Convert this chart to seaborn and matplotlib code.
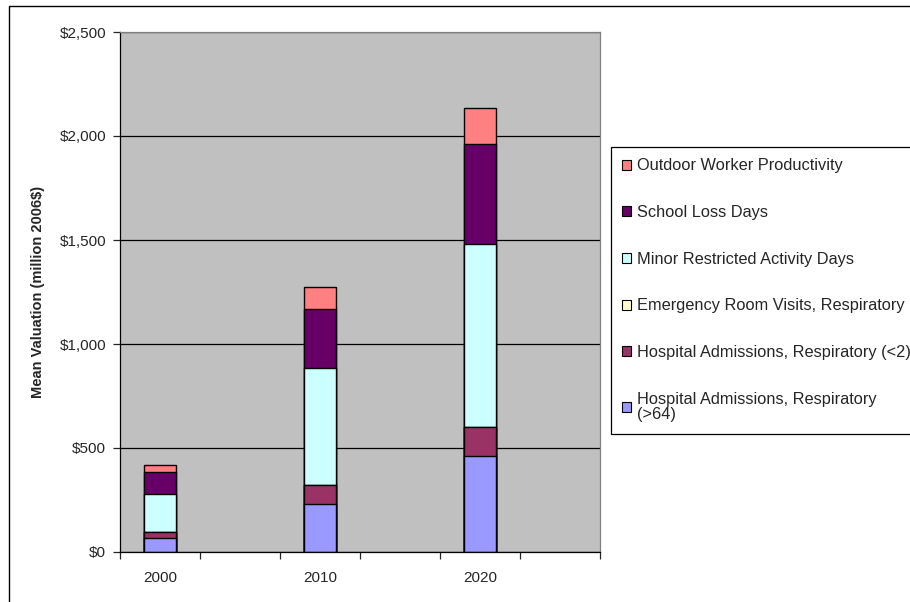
import numpy as np
import pandas as pd
import matplotlib
matplotlib.use("Agg")
import matplotlib.pyplot as plt
import seaborn as sns
from matplotlib.patches import Patch, Rectangle
from matplotlib.ticker import FuncFormatter

# category slots (Excel shows every 2nd label)
years = ["2000", "2005", "2010", "2015", "2020", "2025"]
year_labels = ["2000", "", "2010", "", "2020", ""]
data_years = ["2000", "2010", "2020"]

# endpoints, bottom to top of the stack
endpoints = ["Hospital Admissions, Respiratory (>64)",
             "Hospital Admissions, Respiratory (<2)",
             "Emergency Room Visits, Respiratory",
             "Minor Restricted Activity Days",
             "School Loss Days",
             "Outdoor Worker Productivity"]
legend_labels = ["Hospital Admissions, Respiratory\n(>64)",
                 "Hospital Admissions, Respiratory (<2)",
                 "Emergency Room Visits, Respiratory",
                 "Minor Restricted Activity Days",
                 "School Loss Days",
                 "Outdoor Worker Productivity"]

# mean valuation, million 2006$
hosp_64 = [68, 231, 460]
hosp_2 = [29, 91, 140]
er_visits = [0.5, 1, 2]
mrad = [183, 563, 880]
school_loss = [106, 283, 480]
worker_prod = [34, 104, 175]

colors = ["#9999FF", "#993366", "#FFFFCC", "#CCFFFF", "#660066", "#FF8080"]

series = [hosp_64, hosp_2, er_visits, mrad, school_loss, worker_prod]
df = pd.DataFrame({
    "year": data_years * len(endpoints),
    "endpoint": np.repeat(endpoints, len(data_years)),
    "value": np.concatenate(series),
})
df["cum"] = df.groupby("year")["value"].cumsum()

sns.set_style("white")
plt.rcParams["font.family"] = ["Liberation Sans", "DejaVu Sans"]

fig = plt.figure(figsize=(9.1, 6.02), dpi=100)
ax = fig.add_axes([120 / 910, 1 - 552 / 602, 480 / 910, 520 / 602])
ax.set_facecolor("#C0C0C0")

# stacked bars: draw cumulative totals from the top layer down
for i in reversed(range(len(endpoints))):
    sub = df[df["endpoint"] == endpoints[i]]
    sns.barplot(data=sub, x="year", y="cum", order=years, color=colors[i],
                saturation=1, width=0.41, errorbar=None,
                edgecolor="black", linewidth=1, ax=ax)

ax.set_axisbelow(True)
ax.yaxis.grid(True, color="black", linewidth=0.9)
ax.set_xlim(-0.5, 5.5)
ax.set_ylim(0, 2500)
ax.set_yticks(np.arange(0, 2501, 500))
ax.yaxis.set_major_formatter(FuncFormatter(lambda v, p: f"${v:,.0f}"))
ax.tick_params(axis="y", left=True, length=5, width=0.9, pad=5, labelsize=11)

ax.set_xticks(range(len(years)))
ax.set_xticklabels(year_labels)
ax.set_xticks(np.arange(-0.5, 6, 1), minor=True)
ax.tick_params(axis="x", which="major", length=0, pad=13.5, labelsize=11)
ax.tick_params(axis="x", which="minor", bottom=True, length=5, width=0.9)

ax.set_xlabel("")
ax.set_ylabel("Mean Valuation (million 2006$)", fontsize=10.5, fontweight="bold")
ax.yaxis.set_label_coords(-0.156, 0.5)

for s in ["left", "bottom"]:
    ax.spines[s].set_color("black")
    ax.spines[s].set_linewidth(0.9)
for s in ["top", "right"]:
    ax.spines[s].set_color("#808080")
    ax.spines[s].set_linewidth(0.9)

# legend, top layer first (it runs past the right edge, as in the original)
handles = [Patch(facecolor=colors[i], edgecolor="black", linewidth=0.8)
           for i in reversed(range(len(endpoints)))]
labels = [legend_labels[i] for i in reversed(range(len(endpoints)))]
leg = fig.legend(handles, labels, loc="upper left",
                 bbox_to_anchor=(611 / 910, 1 - 147 / 602), borderaxespad=0,
                 frameon=True, fancybox=False, edgecolor="black", framealpha=1,
                 fontsize=11.8, labelspacing=1.93, handlelength=0.55,
                 handleheight=0.55, handletextpad=0.35, borderpad=0.7)
leg.get_frame().set_linewidth(0.9)
leg.get_texts()[-1].set_linespacing(1.05)

# chart area border
fig.patches.append(Rectangle((9 / 910, -0.5), 2, 0.5 + 1 - 6 / 602,
                             transform=fig.transFigure, fill=False,
                             edgecolor="black", linewidth=1))

fig.savefig("out.png", dpi=100)
